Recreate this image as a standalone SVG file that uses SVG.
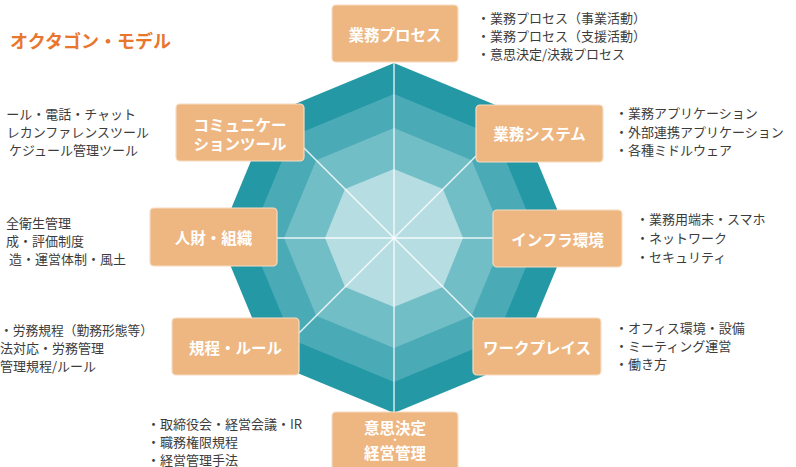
<svg xmlns="http://www.w3.org/2000/svg" width="796" height="467" viewBox="0 0 796 467">
<style>
text{font-family:"Noto Sans CJK JP","Noto Sans",sans-serif}
.box{fill:#eeb681;stroke:#f6dcc2;stroke-width:1.2}
.bt{fill:#ffffff;font-size:15.5px;font-weight:bold;text-anchor:middle;dominant-baseline:central}
.li{fill:#3c3c3c;font-size:13px;dominant-baseline:central}
.e{text-anchor:end}
.sp{stroke:#ffffff;stroke-width:1.4;stroke-opacity:0.85;fill:none}
</style>
<rect width="796" height="467" fill="#ffffff"/>
<g id="octagon">
<polygon fill="#2598a6" points="394,63 517.7,114.3 569,238 517.7,361.7 394,413 270.3,361.7 219,238 270.3,114.3"/>
<polygon fill="#4aabb7" points="394,94 495.8,136.2 538,238 495.8,339.8 394,382 292.2,339.8 250,238 292.2,136.2"/>
<polygon fill="#72bec7" points="394,128 471.8,160.2 504,238 471.8,315.8 394,348 316.2,315.8 284,238 316.2,160.2"/>
<polygon fill="#b6dde2" points="394,169 443,189 463,238 443,287 394,307 345,287 325,238 345,189"/>
</g>
<g id="connectors">
<line class="sp" x1="394" y1="62" x2="394" y2="412"/>
<line class="sp" x1="277" y1="238" x2="493" y2="238"/>
<line class="sp" x1="303" y1="147" x2="476" y2="320"/>
<line class="sp" x1="476" y1="156" x2="299" y2="333"/>
</g>
<text x="10" y="40" font-size="18" font-weight="bold" fill="#e8762d" dominant-baseline="central">オクタゴン・モデル</text>
<g id="n-process">
<rect class="box" x="332" y="5" width="126" height="57" rx="4"/>
<text class="bt" x="395" y="34">業務プロセス</text>
<text class="li" x="477" y="17">・業務プロセス（事業活動）</text>
<text class="li" x="477" y="35">・業務プロセス（支援活動）</text>
<text class="li" x="477" y="53">・意思決定/決裁プロセス</text>
</g>
<g id="n-system">
<rect class="box" x="476" y="105" width="127" height="57" rx="4"/>
<text class="bt" x="539.5" y="133">業務システム</text>
<text class="li" x="615" y="112">・業務アプリケーション</text>
<text class="li" x="615" y="131">・外部連携アプリケーション</text>
<text class="li" x="615" y="149">・各種ミドルウェア</text>
</g>
<g id="n-infra">
<rect class="box" x="493" y="210" width="129" height="57" rx="4"/>
<text class="bt" x="557.5" y="238.5">インフラ環境</text>
<text class="li" x="636" y="218">・業務用端末・スマホ</text>
<text class="li" x="636" y="237">・ネットワーク</text>
<text class="li" x="636" y="256">・セキュリティ</text>
</g>
<g id="n-workplace">
<rect class="box" x="473" y="318" width="128" height="57" rx="4"/>
<text class="bt" x="537" y="346.5">ワークプレイス</text>
<text class="li" x="615" y="327">・オフィス環境・設備</text>
<text class="li" x="615" y="345">・ミーティング運営</text>
<text class="li" x="615" y="363">・働き方</text>
</g>
<g id="n-management">
<rect class="box" x="332" y="412" width="126" height="60" rx="4"/>
<text class="bt"><tspan x="395" y="427">意思決定</tspan><tspan x="395" y="439" font-size="9">・</tspan><tspan x="395" y="452">経営管理</tspan></text>
<text class="li" x="147" y="423">・取締役会・経営会議・IR</text>
<text class="li" x="147" y="441">・職務権限規程</text>
<text class="li" x="147" y="459">・経営管理手法</text>
</g>
<g id="n-rules">
<rect class="box" x="172" y="318" width="127" height="57" rx="4"/>
<text class="bt" x="235.5" y="346.5">規程・ルール</text>
<text class="li" x="0" y="329" textLength="153" lengthAdjust="spacingAndGlyphs">・労務規程（勤務形態等）</text>
<text class="li" x="0" y="347">法対応・労務管理</text>
<text class="li" x="0" y="365">管理規程/ルール</text>
</g>
<g id="n-hr">
<rect class="box" x="150" y="208" width="127" height="58" rx="4"/>
<text class="bt" x="213.5" y="237">人財・組織</text>
<text class="li e" x="71" y="222">全衛生管理</text>
<text class="li e" x="84" y="240">成・評価制度</text>
<text class="li e" x="126" y="258">造・運営体制・風土</text>
</g>
<g id="n-comm">
<rect class="box" x="176" y="104" width="128" height="57" rx="4"/>
<text class="bt" x="240" y="124">コミュニケー</text>
<text class="bt" x="240" y="143">ションツール</text>
<text class="li e" x="136" y="113">ール・電話・チャット</text>
<text class="li e" x="149" y="131">レカンファレンスツール</text>
<text class="li e" x="138" y="149">ケジュール管理ツール</text>
</g>
</svg>
